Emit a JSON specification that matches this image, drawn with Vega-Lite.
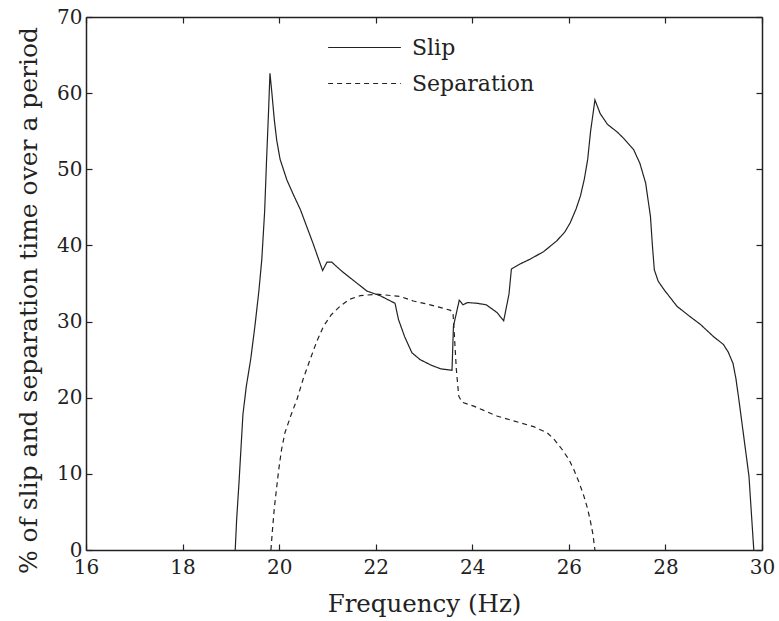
{
  "$schema": "https://vega.github.io/schema/vega-lite/v6.json",
  "width": 676,
  "height": 533,
  "autosize": {"type": "none"},
  "padding": {"left": 86, "top": 17, "right": 17, "bottom": 71},
  "background": "white",
  "config": {
    "font": "DejaVu Serif",
    "view": {"stroke": null},
    "axis": {
      "grid": false,
      "domainColor": "#222",
      "domainWidth": 1.5,
      "tickColor": "#222",
      "tickWidth": 1.2,
      "tickSize": -6,
      "labelFont": "DejaVu Serif",
      "labelFontSize": 20,
      "labelColor": "#222",
      "titleFont": "DejaVu Serif",
      "titleFontWeight": "normal",
      "titleColor": "#222"
    }
  },
  "datasets": {
    "d": [
      {"f": 19.09, "v": 0, "series": "Slip"},
      {"f": 19.12, "v": 4, "series": "Slip"},
      {"f": 19.17, "v": 9, "series": "Slip"},
      {"f": 19.25, "v": 17.8, "series": "Slip"},
      {"f": 19.32, "v": 21.5, "series": "Slip"},
      {"f": 19.41, "v": 25.0, "series": "Slip"},
      {"f": 19.50, "v": 29.5, "series": "Slip"},
      {"f": 19.58, "v": 34.0, "series": "Slip"},
      {"f": 19.64, "v": 38.1, "series": "Slip"},
      {"f": 19.70, "v": 44.5, "series": "Slip"},
      {"f": 19.74, "v": 51.3, "series": "Slip"},
      {"f": 19.78, "v": 57.5, "series": "Slip"},
      {"f": 19.81, "v": 62.6, "series": "Slip"},
      {"f": 19.85, "v": 60.0, "series": "Slip"},
      {"f": 19.90, "v": 56.5, "series": "Slip"},
      {"f": 19.95, "v": 53.8, "series": "Slip"},
      {"f": 20.02, "v": 51.3, "series": "Slip"},
      {"f": 20.16, "v": 48.6, "series": "Slip"},
      {"f": 20.30, "v": 46.6, "series": "Slip"},
      {"f": 20.44, "v": 44.7, "series": "Slip"},
      {"f": 20.70, "v": 40.3, "series": "Slip"},
      {"f": 20.90, "v": 36.7, "series": "Slip"},
      {"f": 20.99, "v": 37.8, "series": "Slip"},
      {"f": 21.09, "v": 37.8, "series": "Slip"},
      {"f": 21.30, "v": 36.6, "series": "Slip"},
      {"f": 21.54, "v": 35.4, "series": "Slip"},
      {"f": 21.82, "v": 34.0, "series": "Slip"},
      {"f": 22.09, "v": 33.4, "series": "Slip"},
      {"f": 22.40, "v": 32.4, "series": "Slip"},
      {"f": 22.47, "v": 30.3, "series": "Slip"},
      {"f": 22.60, "v": 28.0, "series": "Slip"},
      {"f": 22.75, "v": 25.9, "series": "Slip"},
      {"f": 22.92, "v": 25.0, "series": "Slip"},
      {"f": 23.14, "v": 24.3, "series": "Slip"},
      {"f": 23.34, "v": 23.8, "series": "Slip"},
      {"f": 23.58, "v": 23.6, "series": "Slip"},
      {"f": 23.61, "v": 29.4, "series": "Slip"},
      {"f": 23.73, "v": 32.8, "series": "Slip"},
      {"f": 23.81, "v": 32.2, "series": "Slip"},
      {"f": 23.90, "v": 32.5, "series": "Slip"},
      {"f": 24.10, "v": 32.4, "series": "Slip"},
      {"f": 24.29, "v": 32.2, "series": "Slip"},
      {"f": 24.51, "v": 31.2, "series": "Slip"},
      {"f": 24.65, "v": 30.1, "series": "Slip"},
      {"f": 24.76, "v": 33.6, "series": "Slip"},
      {"f": 24.81, "v": 36.9, "series": "Slip"},
      {"f": 25.00, "v": 37.6, "series": "Slip"},
      {"f": 25.20, "v": 38.2, "series": "Slip"},
      {"f": 25.48, "v": 39.2, "series": "Slip"},
      {"f": 25.75, "v": 40.6, "series": "Slip"},
      {"f": 25.92, "v": 41.8, "series": "Slip"},
      {"f": 26.03, "v": 43.0, "series": "Slip"},
      {"f": 26.15, "v": 44.8, "series": "Slip"},
      {"f": 26.24, "v": 46.5, "series": "Slip"},
      {"f": 26.32, "v": 48.7, "series": "Slip"},
      {"f": 26.39, "v": 51.3, "series": "Slip"},
      {"f": 26.45, "v": 55.0, "series": "Slip"},
      {"f": 26.54, "v": 59.1, "series": "Slip"},
      {"f": 26.65, "v": 57.3, "series": "Slip"},
      {"f": 26.80, "v": 55.9, "series": "Slip"},
      {"f": 27.00, "v": 54.9, "series": "Slip"},
      {"f": 27.13, "v": 54.1, "series": "Slip"},
      {"f": 27.34, "v": 52.6, "series": "Slip"},
      {"f": 27.47, "v": 50.8, "series": "Slip"},
      {"f": 27.59, "v": 48.2, "series": "Slip"},
      {"f": 27.69, "v": 43.8, "series": "Slip"},
      {"f": 27.73, "v": 40.0, "series": "Slip"},
      {"f": 27.77, "v": 36.8, "series": "Slip"},
      {"f": 27.85, "v": 35.3, "series": "Slip"},
      {"f": 27.97, "v": 34.2, "series": "Slip"},
      {"f": 28.24, "v": 32.0, "series": "Slip"},
      {"f": 28.50, "v": 30.7, "series": "Slip"},
      {"f": 28.73, "v": 29.6, "series": "Slip"},
      {"f": 29.00, "v": 28.0, "series": "Slip"},
      {"f": 29.20, "v": 27.0, "series": "Slip"},
      {"f": 29.30, "v": 26.0, "series": "Slip"},
      {"f": 29.40, "v": 24.5, "series": "Slip"},
      {"f": 29.46, "v": 22.5, "series": "Slip"},
      {"f": 29.52, "v": 19.8, "series": "Slip"},
      {"f": 29.62, "v": 15.0, "series": "Slip"},
      {"f": 29.73, "v": 9.7, "series": "Slip"},
      {"f": 29.83, "v": 0, "series": "Slip"},
      {"f": 19.83, "v": 0, "series": "Separation"},
      {"f": 19.86, "v": 2.5, "series": "Separation"},
      {"f": 19.90, "v": 5.5, "series": "Separation"},
      {"f": 19.99, "v": 10.5, "series": "Separation"},
      {"f": 20.05, "v": 13.2, "series": "Separation"},
      {"f": 20.12, "v": 15.4, "series": "Separation"},
      {"f": 20.25, "v": 17.8, "series": "Separation"},
      {"f": 20.37, "v": 19.8, "series": "Separation"},
      {"f": 20.50, "v": 22.5, "series": "Separation"},
      {"f": 20.64, "v": 25.0, "series": "Separation"},
      {"f": 20.78, "v": 27.4, "series": "Separation"},
      {"f": 20.92, "v": 29.4, "series": "Separation"},
      {"f": 21.08, "v": 30.9, "series": "Separation"},
      {"f": 21.26, "v": 32.0, "series": "Separation"},
      {"f": 21.45, "v": 32.9, "series": "Separation"},
      {"f": 21.68, "v": 33.4, "series": "Separation"},
      {"f": 22.02, "v": 33.6, "series": "Separation"},
      {"f": 22.51, "v": 33.3, "series": "Separation"},
      {"f": 22.78, "v": 32.7, "series": "Separation"},
      {"f": 23.13, "v": 32.2, "series": "Separation"},
      {"f": 23.54, "v": 31.5, "series": "Separation"},
      {"f": 23.60, "v": 31.2, "series": "Separation"},
      {"f": 23.63, "v": 28.1, "series": "Separation"},
      {"f": 23.67, "v": 23.7, "series": "Separation"},
      {"f": 23.72, "v": 20.2, "series": "Separation"},
      {"f": 23.79, "v": 19.4, "series": "Separation"},
      {"f": 24.03, "v": 18.9, "series": "Separation"},
      {"f": 24.51, "v": 17.6, "series": "Separation"},
      {"f": 25.00, "v": 16.7, "series": "Separation"},
      {"f": 25.27, "v": 16.2, "series": "Separation"},
      {"f": 25.55, "v": 15.4, "series": "Separation"},
      {"f": 25.70, "v": 14.5, "series": "Separation"},
      {"f": 25.86, "v": 13.2, "series": "Separation"},
      {"f": 26.00, "v": 11.9, "series": "Separation"},
      {"f": 26.10, "v": 10.6, "series": "Separation"},
      {"f": 26.21, "v": 8.9, "series": "Separation"},
      {"f": 26.31, "v": 7.1, "series": "Separation"},
      {"f": 26.38, "v": 5.6, "series": "Separation"},
      {"f": 26.44, "v": 4.0, "series": "Separation"},
      {"f": 26.50, "v": 2.0, "series": "Separation"},
      {"f": 26.54, "v": 0, "series": "Separation"}
    ]
  },
  "data": {"name": "d"},
  "resolve": {"axis": {"x": "independent", "y": "independent"}},
  "layer": [
    {
      "mark": {"type": "line", "strokeWidth": 1.2, "clip": true},
      "encoding": {
        "x": {
          "field": "f", "type": "quantitative",
          "scale": {"domain": [16, 30], "nice": false},
          "axis": {"values": [16, 18, 20, 22, 24, 26, 28, 30], "title": "Frequency (Hz)", "titleFontSize": 24.5, "labelPadding": 13, "titlePadding": 15, "labelFlush": false}
        },
        "y": {
          "field": "v", "type": "quantitative",
          "scale": {"domain": [0, 70], "nice": false},
          "axis": {"values": [0, 10, 20, 30, 40, 50, 60, 70], "title": "% of slip and separation time over a period", "titleFontSize": 25, "titleY": 283, "labelPadding": 10, "titlePadding": 15, "labelFlush": false}
        },
        "color": {
          "field": "series", "type": "nominal",
          "scale": {"domain": ["Slip", "Separation"], "range": ["#222", "#222"]},
          "legend": {
            "orient": "none", "legendX": 241, "legendY": -7, "title": null,
            "values": ["Slip"],
            "symbolType": "stroke", "symbolSize": 5300, "symbolStrokeWidth": 1.2,
            "symbolStrokeColor": "#222",
            "labelFontSize": 22, "labelColor": "#222", "labelFont": "DejaVu Serif",
            "labelOffset": 10
          }
        },
        "strokeDash": {
          "field": "series", "type": "nominal",
          "scale": {"domain": ["Separation", "Slip"], "range": [[5, 4], [1, 0]]},
          "legend": {
            "orient": "none", "legendX": 241, "legendY": 29, "title": null,
            "values": ["Separation"],
            "symbolType": "stroke", "symbolSize": 5300, "symbolStrokeWidth": 1.2,
            "symbolStrokeColor": "#222",
            "labelFontSize": 22, "labelColor": "#222", "labelFont": "DejaVu Serif",
            "labelOffset": 10
          }
        }
      }
    },
    {
      "mark": {"type": "line", "strokeOpacity": 0},
      "encoding": {
        "x": {
          "field": "f", "type": "quantitative",
          "scale": {"domain": [16, 30], "nice": false},
          "axis": {"orient": "top", "values": [16, 18, 20, 22, 24, 26, 28, 30], "labels": false, "title": null}
        },
        "y": {
          "field": "v", "type": "quantitative",
          "scale": {"domain": [0, 70], "nice": false},
          "axis": {"orient": "right", "values": [0, 10, 20, 30, 40, 50, 60, 70], "labels": false, "title": null}
        },
        "detail": {"field": "series", "type": "nominal"}
      }
    }
  ]
}
